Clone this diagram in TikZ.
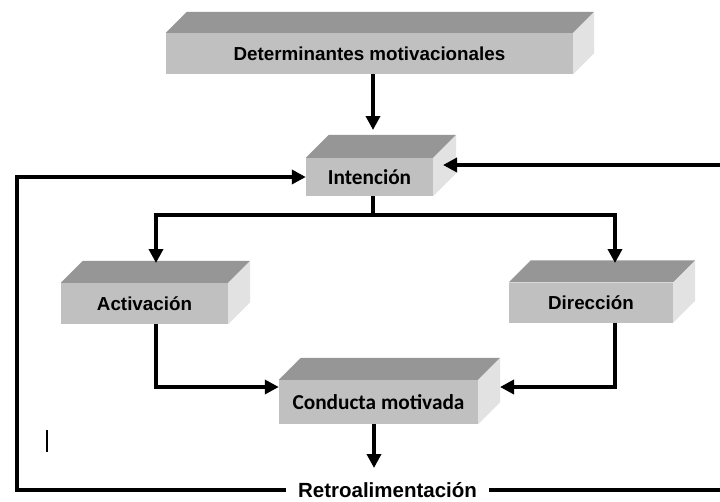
\documentclass[tikz,border=0pt]{standalone}
\usepackage{fontspec}
\setmainfont{Liberation Sans}
\newfontfamily\calib{Carlito}
\usetikzlibrary{arrows.meta}
\definecolor{frontc}{HTML}{C0C0C0}
\definecolor{topc}{HTML}{969696}
\definecolor{sidec}{HTML}{E2E2E2}
\tikzset{
  conn/.style={line width=3.6pt,-{Triangle[length=14pt,width=14pt]}},
  plainline/.style={line width=3.6pt},
  arialtxt/.style={font=\fontsize{18.8}{20}\selectfont\bfseries},
  calibtxt/.style={font=\calib\bfseries\fontsize{21.3}{23}\selectfont},
}
% #1 name, #2 x, #3 y, #4 w, #5 h, #6 depth, #7 style, #8 text
\newcommand\blockbox[8]{%
  \node[fill=frontc,minimum width=#4pt,minimum height=#5pt,inner sep=0pt,#7] (#1) at (#2,#3) {#8};
  \fill[topc] (#1.north west) -- ++(#6pt,#6pt) -- ([shift={(#6pt,#6pt)}]#1.north east) -- (#1.north east) -- cycle;
  \fill[sidec] (#1.north east) -- ++(#6pt,#6pt) -- ([shift={(#6pt,#6pt)}]#1.south east) -- (#1.south east) -- cycle;
}
\begin{document}
\begin{tikzpicture}[x=1pt,y=-1pt]
\fill[white] (0,0) rectangle (720,501);
\useasboundingbox (0,0) rectangle (720,501);

\blockbox{det}{369.5}{53.5}{407}{41}{21}{arialtxt}{Determinantes motivacionales}
\blockbox{int}{369.5}{177}{127}{38}{23}{calibtxt}{Intención}
\blockbox{act}{144.5}{303.5}{167}{41}{22}{arialtxt}{Activación}
\blockbox{dir}{591}{302.5}{164}{40}{22}{arialtxt}{Dirección}
\blockbox{con}{378.5}{402}{199}{44}{22}{calibtxt}{Conducta motivada}

\node[font=\fontsize{20.5}{22}\selectfont\bfseries,inner xsep=12pt,inner ysep=0pt] (retro) at (387.5,490) {Retroalimentación};

\coordinate (dtip) at (373,130);
\coordinate (j) at (373,215);
\coordinate (acttip) at (156,263);
\coordinate (dirtip) at (615,263);
\coordinate (conright) at (500,387);
\coordinate (contip) at (374,468);
\coordinate (rightin) at (720,165);
\coordinate (intside) at (443,165);
\coordinate (rightend) at (720,490);
\coordinate (leftbot) at (17,490);
\coordinate (lefttop) at (17,177);

\draw[conn] (det.south -| dtip) -- (dtip);
\draw[plainline] (int.south -| j) -- (j);
\draw[conn] (j) -| (acttip);
\draw[conn] (j) -| (dirtip);
\draw[conn] (act.south -| acttip) |- ([yshift=15pt]con.west);
\draw[conn] (dir.south -| dirtip) |- (conright);
\draw[conn] (con.south -| contip) -- (contip);
\draw[conn] (retro.west) -- (leftbot) -- (lefttop) -- (int.west);
\draw[plainline] (retro.east) -- (rightend);
\draw[conn] (rightin) -- (intside);
\draw[line width=1.6pt] (47,430) -- (47,452);
\end{tikzpicture}
\end{document}
